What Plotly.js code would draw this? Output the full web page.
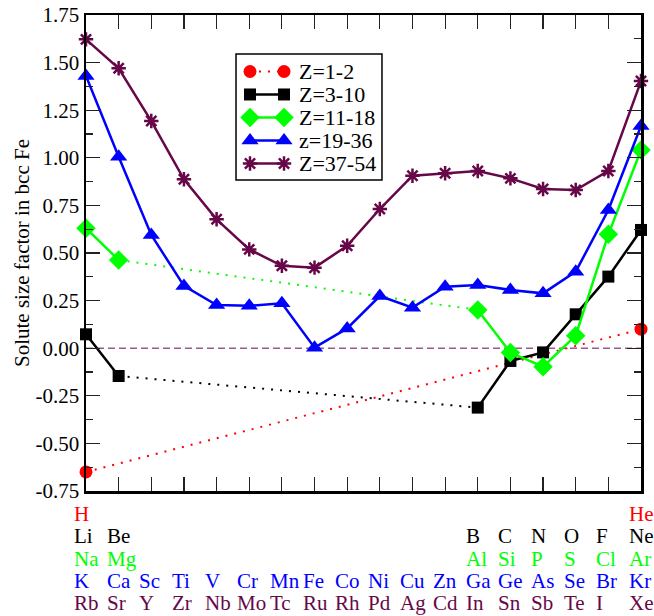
<!DOCTYPE html>
<html>
<head>
<meta charset="utf-8">
<script src="https://cdn.plot.ly/plotly-3.0.1.min.js"></script>
<style>html,body{margin:0;padding:0;background:#fff;}#chart{width:654px;height:616px;}</style>
</head>
<body>
<div id="chart"></div>
<script>
// ---- data ----
const colsAll = [0,1,2,3,4,5,6,7,8,9,10,11,12,13,14,15,16,17];

const z1_2_x = [0, 17];
const z1_2_y = [-0.65, 0.10];

const z3_10_x = [0, 1, 12, 13, 14, 15, 16, 17];
const z3_10_y = [0.073, -0.146, -0.312, -0.067, -0.022, 0.178, 0.376, 0.621];

const z11_18_x = [0, 1, 12, 13, 14, 15, 16, 17];
const z11_18_y = [0.630, 0.463, 0.201, -0.023, -0.097, 0.066, 0.598, 1.041];

const z19_36_x = colsAll;
const z19_36_y = [1.43, 1.006, 0.595, 0.327, 0.227, 0.223, 0.236, 0.003, 0.104, 0.274, 0.213, 0.323, 0.332, 0.306, 0.288, 0.402, 0.726, 1.167];

const z37_54_x = colsAll;
const z37_54_y = [1.622, 1.470, 1.193, 0.887, 0.677, 0.519, 0.433, 0.423, 0.538, 0.731, 0.906, 0.919, 0.931, 0.892, 0.836, 0.831, 0.931, 1.403];

const seriesNames = ["Z=1-2", "Z=3-10", "Z=11-18", "z=19-36", "Z=37-54"];

const row1 = ["H","","","","","","","","","","","","","","","","","He"];
const row2 = ["Li","Be","","","","","","","","","","","B","C","N","O","F","Ne"];
const row3 = ["Na","Mg","","","","","","","","","","","Al","Si","P","S","Cl","Ar"];
const row4 = ["K","Ca","Sc","Ti","V","Cr","Mn","Fe","Co","Ni","Cu","Zn","Ga","Ge","As","Se","Br","Kr"];
const row5 = ["Rb","Sr","Y","Zr","Nb","Mo","Tc","Ru","Rh","Pd","Ag","Cd","In","Sn","Sb","Te","I","Xe"];

const yTickVals = [-0.75,-0.5,-0.25,0,0.25,0.5,0.75,1,1.25,1.5,1.75];
const yTickText = ["-0.75","-0.50","-0.25","0.00","0.25","0.50","0.75","1.00","1.25","1.50","1.75"];

// ---- styles ----
const RED = "#ff0000", BLACK = "#000000", GREEN = "#00ff00", BLUE = "#0000ff", MAROON = "#670748";
const rowColors = [RED, BLACK, GREEN, BLUE, MAROON];
const FONT = "Liberation Serif";
const DOT = "2px,7px";

const styles = [
  {line: {color: RED, width: 2, dash: DOT}, marker: {symbol: "circle", size: 13, color: RED}},
  {line: {color: BLACK, width: 2.5}, marker: {symbol: "square", size: 12, color: BLACK}},
  {line: {color: GREEN, width: 2.5}, marker: {symbol: "diamond", size: 15, color: GREEN}},
  {line: {color: BLUE, width: 2.5}, marker: {symbol: "triangle-up", size: 15, color: BLUE}},
  {line: {color: MAROON, width: 2.5}, marker: {symbol: "asterisk-open", size: 12, color: MAROON, line: {color: MAROON, width: 2.5}}}
];

function splitSolid(xs, ys, breakAfter) {
  const x = [], y = [];
  xs.forEach((v, i) => {
    x.push(v); y.push(ys[i]);
    if (i === breakAfter) { x.push(null); y.push(null); }
  });
  return {x, y};
}

const traces = [];
traces.push({x: z1_2_x, y: z1_2_y, name: seriesNames[0], mode: "lines+markers",
  line: styles[0].line, marker: styles[0].marker, cliponaxis: false});

traces.push({x: [z3_10_x[1], z3_10_x[2]], y: [z3_10_y[1], z3_10_y[2]], mode: "lines",
  line: {color: BLACK, width: 2, dash: DOT}, hoverinfo: "skip"});
let s = splitSolid(z3_10_x, z3_10_y, 1);
traces.push({x: s.x, y: s.y, name: seriesNames[1], mode: "lines+markers", connectgaps: false,
  line: styles[1].line, marker: styles[1].marker, cliponaxis: false});

traces.push({x: [z11_18_x[1], z11_18_x[2]], y: [z11_18_y[1], z11_18_y[2]], mode: "lines",
  line: {color: GREEN, width: 2, dash: DOT}, hoverinfo: "skip"});
s = splitSolid(z11_18_x, z11_18_y, 1);
traces.push({x: s.x, y: s.y, name: seriesNames[2], mode: "lines+markers", connectgaps: false,
  line: styles[2].line, marker: styles[2].marker, cliponaxis: false});

traces.push({x: z19_36_x, y: z19_36_y, name: seriesNames[3], mode: "lines+markers",
  line: styles[3].line, marker: styles[3].marker, cliponaxis: false});

traces.push({x: z37_54_x, y: z37_54_y, name: seriesNames[4], mode: "lines+markers",
  line: styles[4].line, marker: styles[4].marker, cliponaxis: false});

// legend glyphs (marker - line - marker) on a hidden helper axis
const annotations = [];
seriesNames.forEach((nm, i) => {
  const row = seriesNames.length - 1 - i;
  traces.push({x: [0, 1], y: [row, row], xaxis: "x2", yaxis: "y2", mode: "lines+markers",
    line: styles[i].line, marker: styles[i].marker, cliponaxis: false, hoverinfo: "skip"});
  annotations.push({x: 0.3802, xref: "paper", y: row, yref: "y2", text: nm, showarrow: false,
    xanchor: "left", yanchor: "middle", font: {family: FONT, size: 22, color: "#000"}});
});

// element labels under the x axis
const rows = [row1, row2, row3, row4, row5];
const rowY = [-0.048, -0.095, -0.142, -0.189, -0.235];
rows.forEach((r, ri) => {
  r.forEach((lab, ci) => {
    if (!lab) return;
    annotations.push({x: colsAll[ci], xref: "x", y: rowY[ri], yref: "paper",
      text: lab, showarrow: false, xanchor: "left", yanchor: "middle", xshift: -14,
      font: {family: FONT, size: 21, color: rowColors[ri]}});
  });
});

const layout = {
  width: 654, height: 616,
  margin: {l: 86, r: 13, t: 15, b: 125},
  paper_bgcolor: "#ffffff", plot_bgcolor: "#ffffff",
  font: {family: FONT, size: 21, color: "#000"},
  showlegend: false,
  xaxis: {range: [0, 17], tickvals: colsAll, showticklabels: false, ticks: "inside", ticklen: 14,
    tickwidth: 1.2, tickcolor: "#222", showline: true, linewidth: 2.5, linecolor: "#000",
    mirror: "ticks", showgrid: false, zeroline: false, fixedrange: true},
  yaxis: {range: [-0.75, 1.75], tickvals: yTickVals, ticktext: yTickText, ticks: "inside", ticklen: 14,
    tickwidth: 1.2, tickcolor: "#222", showline: true, linewidth: 2.5, linecolor: "#000",
    mirror: "ticks", showgrid: false, zeroline: false,
    minor: {dtick: 0.125, tick0: 0, ticks: "inside", ticklen: 7, tickwidth: 1.2, tickcolor: "#222", showgrid: false},
    tickfont: {family: FONT, size: 21, color: "#000"},
    title: {text: "Solute size factor in bcc Fe", font: {family: FONT, size: 21, color: "#000"}, standoff: 0},
    automargin: false, fixedrange: true},
  xaxis2: {domain: [0.2955, 0.3568], anchor: "y2", range: [0, 1], visible: false, fixedrange: true},
  yaxis2: {domain: [0.664, 0.9055], anchor: "x2", range: [-0.5, 4.5], visible: false, fixedrange: true},
  shapes: [
    {type: "line", xref: "x", yref: "y", x0: 0, x1: 17, y0: 0, y1: 0,
      line: {color: "#9a5a8c", width: 1.5, dash: "7px,4px"}, layer: "below"},
    {type: "rect", xref: "paper", yref: "paper", x0: 0.2703, x1: 0.5333, y0: 0.6534, y1: 0.918,
      line: {color: "#000", width: 1.5}, fillcolor: "#ffffff", layer: "below"}
  ],
  annotations: annotations
};

Plotly.newPlot("chart", traces, layout, {displayModeBar: false, staticPlot: true});
</script>
</body>
</html>
